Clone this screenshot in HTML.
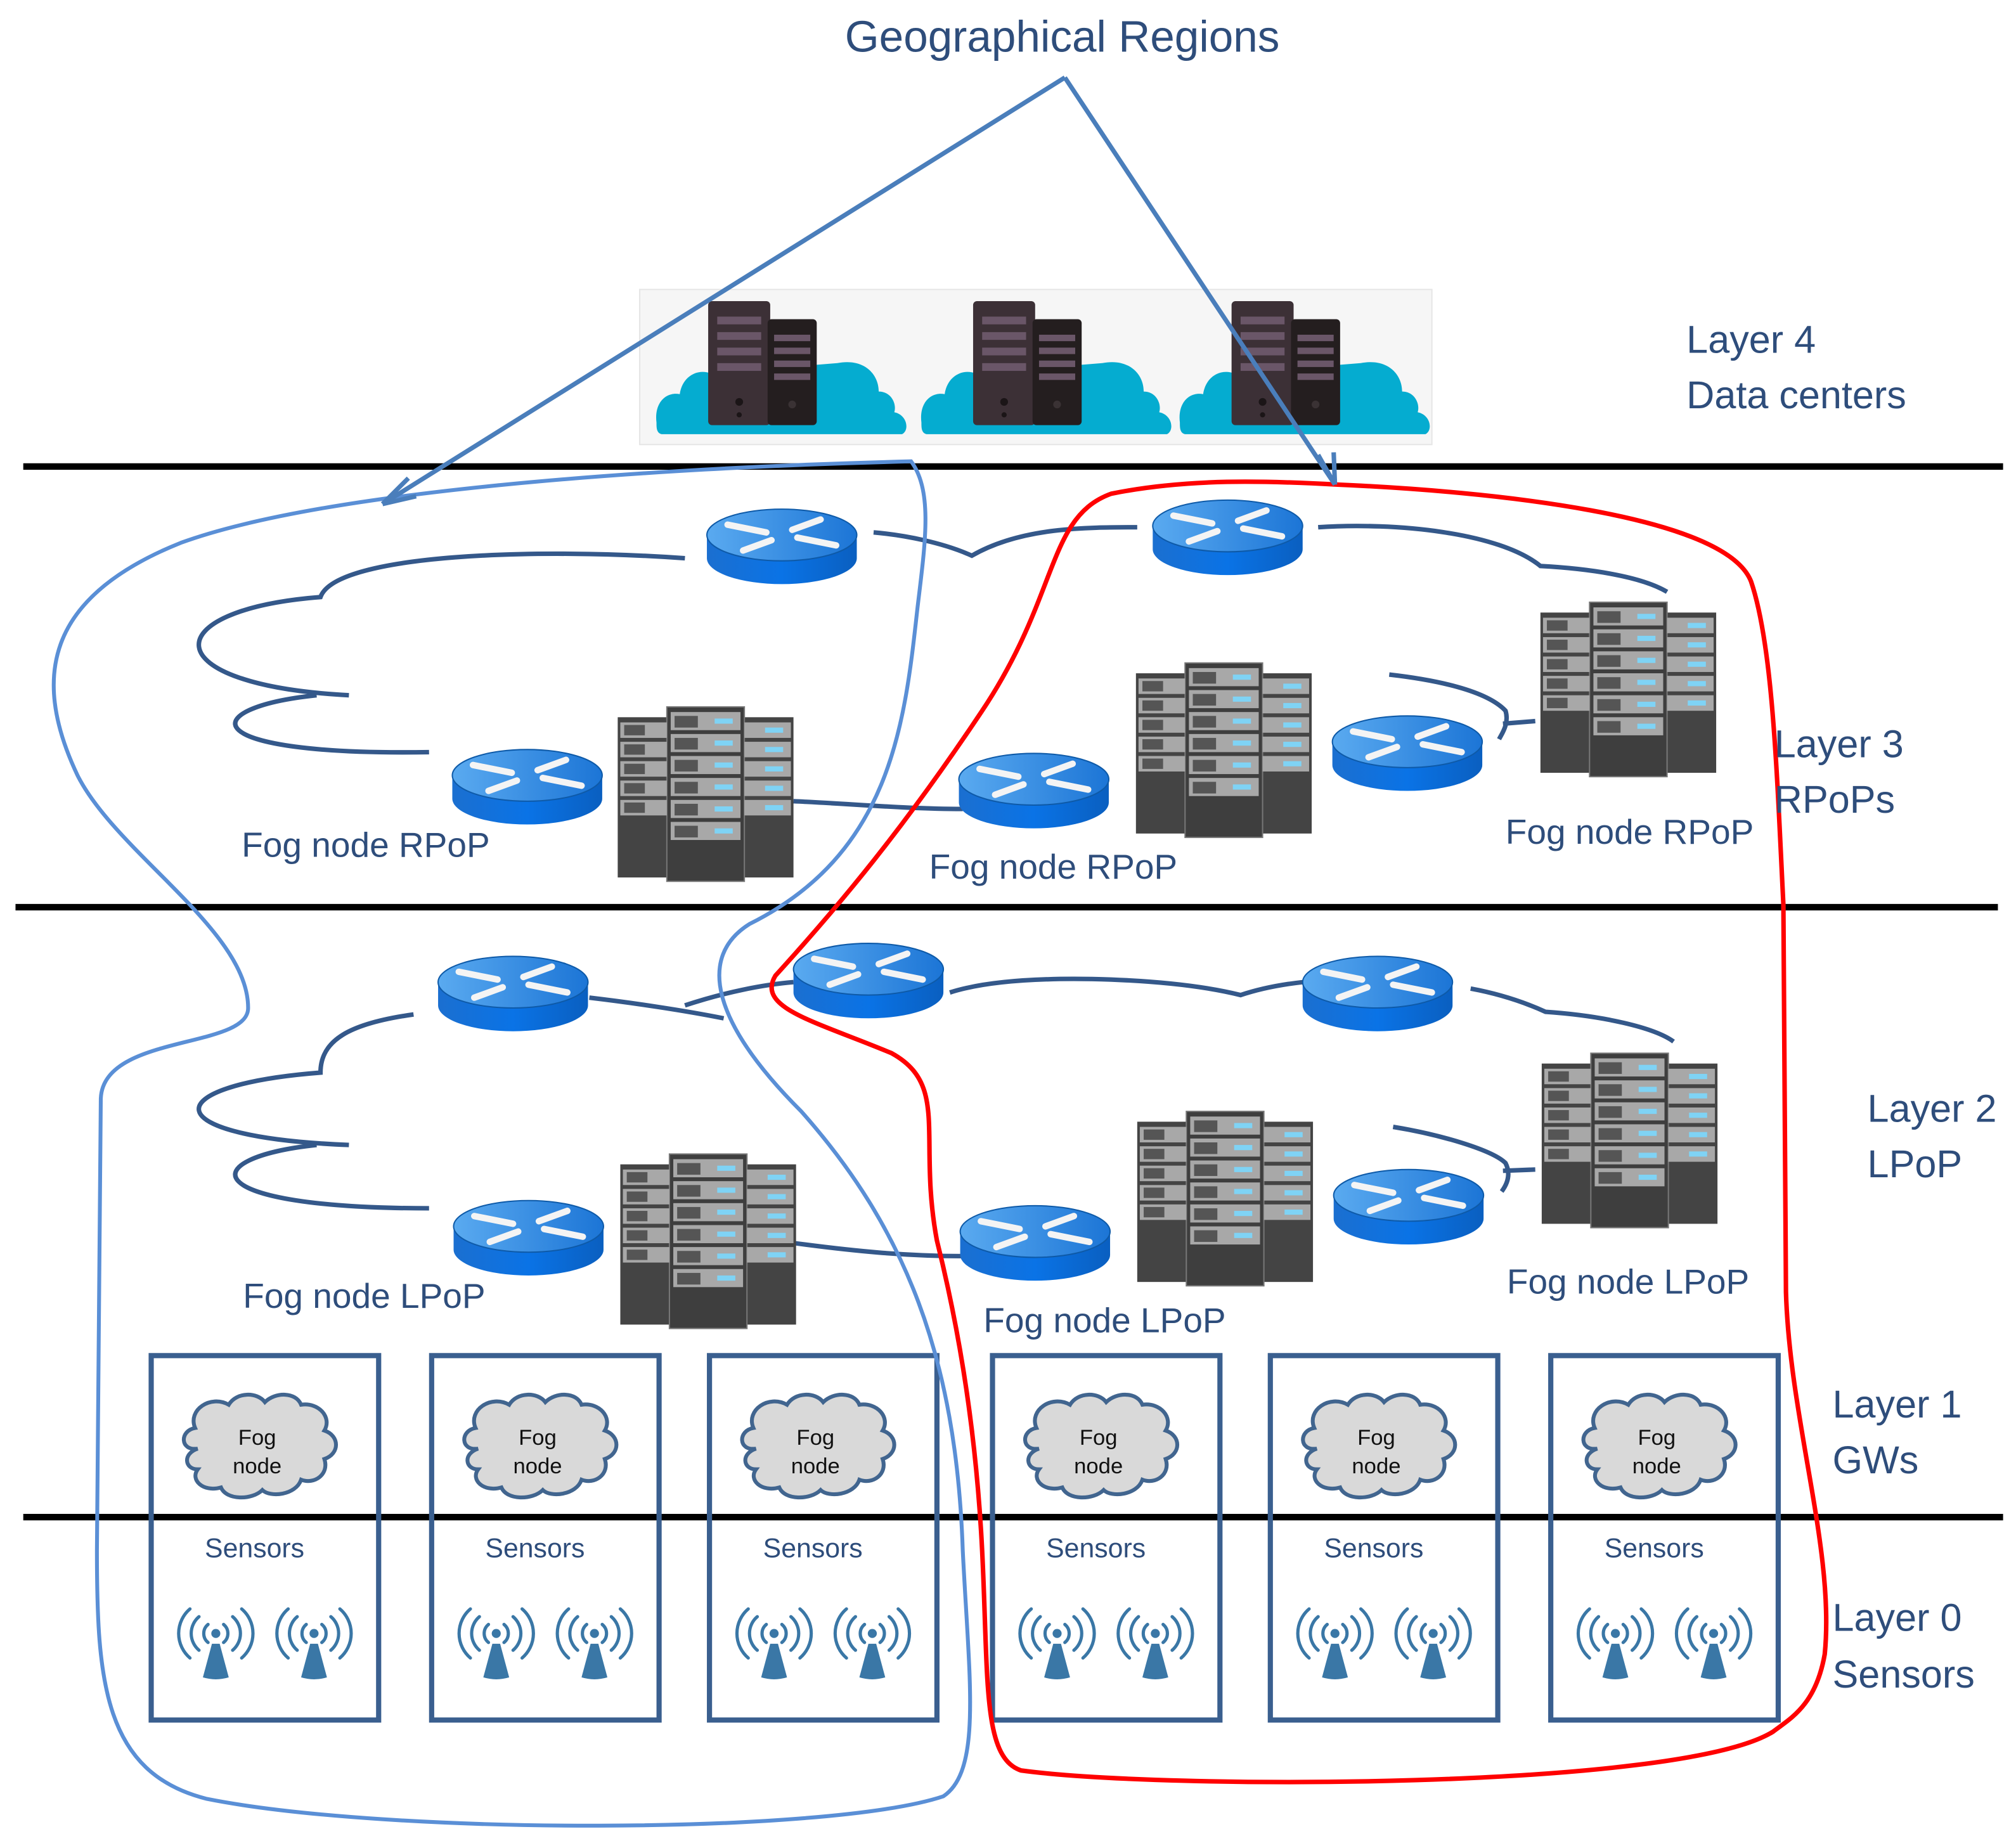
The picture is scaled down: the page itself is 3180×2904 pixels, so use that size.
<!DOCTYPE html>
<html><head><meta charset="utf-8"><style>
html,body{margin:0;padding:0;background:#fff;}
svg{display:block;}
text{font-family:"Liberation Sans",sans-serif;}
</style></head><body>
<svg width="3180" height="2904" viewBox="0 0 1560 1424.6" xmlns="http://www.w3.org/2000/svg">
<defs>
<linearGradient id="rtop" x1="0" y1="0" x2="1" y2="0"><stop offset="0" stop-color="#5aaaf0"/><stop offset="1" stop-color="#1c75d6"/></linearGradient>
<linearGradient id="rside" x1="0" y1="0" x2="1" y2="0"><stop offset="0" stop-color="#1b6fd0"/><stop offset="0.5" stop-color="#0a73e6"/><stop offset="1" stop-color="#0a5fc0"/></linearGradient>
<g id="router">
<path d="M-58,-6 L-58,12 A58,20 0 0 0 58,12 L58,-6 Z" fill="url(#rside)"/>
<ellipse cx="0" cy="-6" rx="58" ry="20" fill="url(#rtop)" stroke="#0e5aa8" stroke-width="1"/>
<g stroke="#f4f4f4" stroke-width="5" stroke-linecap="round" fill="none">
<path d="M-42,-14 L-12,-8"/><path d="M-30,6 L-8,-2"/><path d="M42,2 L12,-4"/><path d="M30,-18 L8,-10"/>
</g>
</g>
<g id="srvunit"><rect x="0" y="0" width="1" height="1"/></g>
<g id="rack">
<rect x="0" y="8" width="40" height="124" fill="#444"/>
<rect x="96" y="8" width="40" height="124" fill="#444"/>
<rect x="38" y="0" width="60" height="135" fill="#3e3e3e" stroke="#777"/>
<g fill="#a8a8a8">
<rect x="2" y="12" width="36" height="12"/><rect x="2" y="27" width="36" height="12"/><rect x="2" y="42" width="36" height="12"/><rect x="2" y="57" width="36" height="12"/><rect x="2" y="72" width="36" height="12"/>
<rect x="98" y="12" width="36" height="12"/><rect x="98" y="27" width="36" height="12"/><rect x="98" y="42" width="36" height="12"/><rect x="98" y="57" width="36" height="12"/><rect x="98" y="72" width="36" height="12"/>
<rect x="41" y="4" width="54" height="14"/><rect x="41" y="21" width="54" height="14"/><rect x="41" y="38" width="54" height="14"/><rect x="41" y="55" width="54" height="14"/><rect x="41" y="72" width="54" height="14"/><rect x="41" y="89" width="54" height="14"/>
</g>
<g fill="#555"><rect x="44" y="7" width="18" height="9"/><rect x="44" y="24" width="18" height="9"/><rect x="44" y="41" width="18" height="9"/><rect x="44" y="58" width="18" height="9"/><rect x="44" y="75" width="18" height="9"/><rect x="44" y="92" width="18" height="9"/>
<rect x="5" y="14" width="16" height="8"/><rect x="5" y="29" width="16" height="8"/><rect x="5" y="44" width="16" height="8"/><rect x="5" y="59" width="16" height="8"/><rect x="5" y="74" width="16" height="8"/></g>
<g fill="#7fd3f5"><rect x="75" y="9" width="14" height="4"/><rect x="75" y="26" width="14" height="4"/><rect x="75" y="43" width="14" height="4"/><rect x="75" y="60" width="14" height="4"/><rect x="75" y="77" width="14" height="4"/><rect x="75" y="94" width="14" height="4"/>
<rect x="114" y="16" width="14" height="4"/><rect x="114" y="31" width="14" height="4"/><rect x="114" y="46" width="14" height="4"/><rect x="114" y="61" width="14" height="4"/><rect x="114" y="76" width="14" height="4"/></g>
</g>
<g id="dc">
<path d="M0,94 C-2,78 8,70 18,72 C20,58 32,52 42,56 C48,30 80,28 90,52 L140,48 C160,44 172,56 172,70 C182,70 186,80 184,86 C194,88 196,100 190,103 L4,103 C0,102 0,98 0,94 Z" fill="#05acd0"/>
<rect x="40" y="0" width="48" height="96" rx="3" fill="#3c3036"/>
<rect x="86" y="14" width="38" height="82" rx="3" fill="#241e1f"/>
<g fill="#6a5668"><rect x="47" y="12" width="34" height="6"/><rect x="47" y="24" width="34" height="6"/><rect x="47" y="36" width="34" height="6"/><rect x="47" y="48" width="34" height="6"/>
<rect x="91" y="26" width="28" height="5"/><rect x="91" y="36" width="28" height="5"/><rect x="91" y="46" width="28" height="5"/><rect x="91" y="56" width="28" height="5"/></g>
<circle cx="64" cy="78" r="3" fill="#1b1517"/><circle cx="64" cy="88" r="2" fill="#1b1517"/>
<circle cx="105" cy="80" r="3" fill="#3a3234"/>
</g>
<g id="ant">
<g fill="none" stroke="#3a77a6" stroke-width="2.5" stroke-linecap="round">
<path d="M-6,-8 A9,9 0 0 0 -6,6"/><path d="M6,-8 A9,9 0 0 1 6,6"/>
<path d="M-13,-14 A17,17 0 0 0 -13,12"/><path d="M13,-14 A17,17 0 0 1 13,12"/>
<path d="M-20,-20 A25,25 0 0 0 -20,18"/><path d="M20,-20 A25,25 0 0 1 20,18"/>
</g>
<circle cx="0" cy="-1" r="3.5" fill="#3a77a6"/>
<path d="M-3,7 L3,7 L10,33 Q0,36 -10,33 Z" fill="#3a77a6"/>
</g>
<g id="box">
<rect x="0" y="0" width="176" height="282" fill="none" stroke="#3a5f8f" stroke-width="4"/>
<path d="M36,72 C22,74 22,58 34,56 C28,42 46,30 60,38 C66,28 82,28 88,36 C96,28 112,28 116,38 C130,36 140,48 134,58 C146,62 146,76 134,80 C138,92 126,100 116,96 C112,108 92,110 86,104 C78,112 58,112 54,102 C40,106 30,96 36,88 C26,88 24,76 36,72 Z" fill="#d9d9d9" stroke="#41658f" stroke-width="3"/>
<text x="82" y="69" font-size="17" fill="#111" text-anchor="middle">Fog</text>
<text x="82" y="91" font-size="17" fill="#111" text-anchor="middle">node</text>
<text x="80" y="156" font-size="21" fill="#2e4d7b" text-anchor="middle">Sensors</text>
<use href="#ant" x="50" y="216"/>
<use href="#ant" x="126" y="216"/>
</g>
</defs>

<!-- data center panel -->
<rect x="495" y="224" width="613" height="120" fill="#f6f6f6" stroke="#e6e6e6"/>
<use href="#dc" x="508" y="233"/>
<use href="#dc" x="713" y="233"/>
<use href="#dc" x="913" y="233"/>

<!-- layer lines -->
<line x1="18" y1="361" x2="1550" y2="361" stroke="#000" stroke-width="5"/>
<line x1="12" y1="702" x2="1546" y2="702" stroke="#000" stroke-width="5"/>
<line x1="18" y1="1174" x2="1550" y2="1174" stroke="#000" stroke-width="5"/>

<!-- network curves -->
<g fill="none" stroke="#34588a" stroke-width="3.5">
<path d="M530,432 C420,424 260,428 248,462 C120,472 118,530 270,538"/>
<path d="M245,538 C150,548 150,585 332,582"/>
<path d="M614,620 C660,622 700,626 745,626"/>
<path d="M676,412 C700,414 730,420 752,430 C790,408 840,408 880,408"/>
<path d="M1020,408 C1080,404 1160,412 1192,438 C1230,440 1270,446 1290,458"/>
<path d="M1075,522 C1110,526 1150,534 1165,550 C1168,560 1162,568 1160,572"/>
<path d="M1163,560 L1188,558"/>
<path d="M320,785 C270,792 248,805 248,830 C120,840 118,880 270,886"/>
<path d="M245,886 C150,896 150,935 332,935"/>
<path d="M456,772 C490,776 530,782 560,788"/>
<path d="M530,778 C560,768 590,762 614,760"/>
<path d="M615,962 C660,968 700,972 745,972"/>
<path d="M735,768 C760,760 800,756 860,758 C910,760 940,765 960,770 C975,765 990,762 1008,760"/>
<path d="M1138,765 C1165,770 1185,778 1196,783 C1240,786 1280,795 1295,806"/>
<path d="M1078,872 C1115,878 1155,890 1165,900 C1170,910 1165,918 1162,922"/>
<path d="M1163,906 L1188,905"/>
</g>

<!-- routers -->
<use href="#router" x="605" y="420"/>
<use href="#router" x="950" y="413"/>
<use href="#router" x="408" y="606"/>
<use href="#router" x="800" y="609"/>
<use href="#router" x="1089" y="580"/>
<use href="#router" x="397" y="766"/>
<use href="#router" x="672" y="756"/>
<use href="#router" x="1066" y="766"/>
<use href="#router" x="409" y="955"/>
<use href="#router" x="801" y="959"/>
<use href="#router" x="1090" y="931"/>

<!-- racks -->
<use href="#rack" x="478" y="547"/>
<use href="#rack" x="879" y="513"/>
<use href="#rack" x="1192" y="466"/>
<use href="#rack" x="480" y="893"/>
<use href="#rack" x="880" y="860"/>
<use href="#rack" x="1193" y="815"/>

<!-- fog labels -->
<g font-size="27" fill="#2e4d7b">
<text x="187" y="663">Fog node RPoP</text>
<text x="719" y="680">Fog node RPoP</text>
<text x="1165" y="653">Fog node RPoP</text>
<text x="188" y="1012">Fog node LPoP</text>
<text x="761" y="1031">Fog node LPoP</text>
<text x="1166" y="1001">Fog node LPoP</text>
</g>

<!-- sensor boxes -->
<use href="#box" x="117" y="1049"/>
<use href="#box" x="334" y="1049"/>
<use href="#box" x="549" y="1049"/>
<use href="#box" x="768" y="1049"/>
<use href="#box" x="983" y="1049"/>
<use href="#box" x="1200" y="1049"/>

<!-- regions -->
<path d="M705,357 C722,380 716,420 710,470 C700,560 690,660 580,715 C540,740 550,790 620,860 C700,950 740,1050 745,1200 C750,1300 760,1370 730,1390 C640,1420 300,1420 160,1392 C80,1372 75,1300 75,1200 L78,850 C80,800 192,812 192,780 C192,720 90,660 60,600 C22,520 40,460 140,420 C250,380 500,362 705,357 Z" fill="none" stroke="#5a8fd6" stroke-width="3"/>
<path d="M1035,375 C1150,380 1335,398 1355,450 C1372,500 1375,600 1380,700 L1382,1000 C1385,1100 1420,1200 1412,1280 C1405,1320 1385,1330 1372,1340 C1300,1385 900,1385 790,1370 C760,1360 765,1300 760,1200 C755,1100 740,1020 725,960 C710,880 735,840 690,815 C630,790 585,780 600,755 C650,700 700,640 760,550 C820,460 810,400 860,382 C920,370 980,372 1035,375 Z" fill="none" stroke="#ff0000" stroke-width="3.5"/>

<!-- title arrows -->
<g stroke="#4a7ebb" stroke-width="3.5" fill="none">
<path d="M824,60 L296,390"/>
<path d="M824,60 L1033,375"/>
<path d="M296,390 L316,370 M296,390 L322,384"/>
<path d="M1033,375 L1020,352 M1033,375 L1032,350"/>
</g>
<text x="822" y="40" font-size="34" fill="#2e4d7b" text-anchor="middle">Geographical Regions</text>

<!-- layer labels -->
<g font-size="30" fill="#2e4d7b">
<text x="1305" y="273">Layer 4</text><text x="1305" y="316">Data centers</text>
<text x="1373" y="586">Layer 3</text><text x="1373" y="629">RPoPs</text>
<text x="1445" y="868">Layer 2</text><text x="1445" y="911">LPoP</text>
<text x="1418" y="1097">Layer 1</text><text x="1418" y="1140">GWs</text>
<text x="1418" y="1262">Layer 0</text><text x="1418" y="1306">Sensors</text>
</g>
</svg>
</body></html>
